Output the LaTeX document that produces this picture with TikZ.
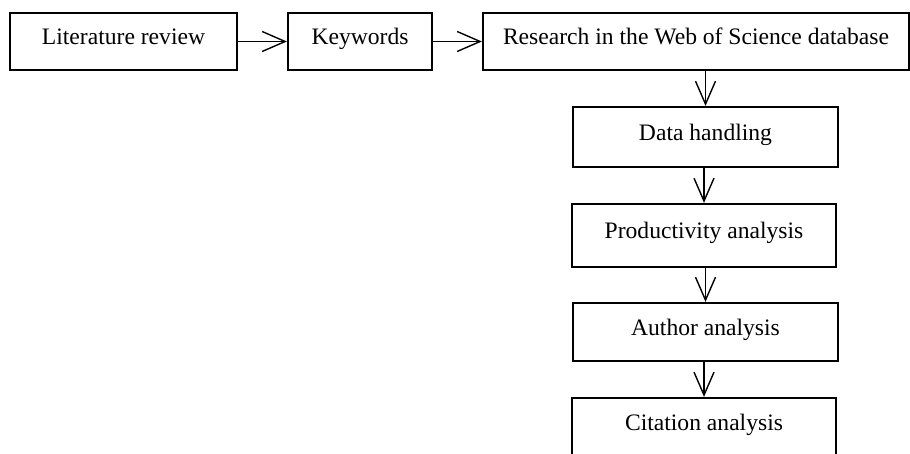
\documentclass[tikz,border=0pt]{standalone}
\usepackage{fontspec}
\setmainfont{Liberation Serif}
\usetikzlibrary{arrows.meta}
\tikzset{
  stage/.style={draw, line width=1.1pt, inner sep=0pt, text height=8pt, text depth=4.5pt,
    font=\fontsize{11.8}{14}\selectfont},
  flow/.style={-{Straight Barb[length=11.5pt,width=10pt]}, line width=0.7pt}
}
\begin{document}
\begin{tikzpicture}[x=0.5pt,y=-0.5pt]
    \useasboundingbox (0,0) rectangle (910,454);
    % top row
    \node[stage, minimum width=113.5pt, minimum height=28.5pt] (lit) at (123.5,41.5) {Literature review};
    \node[stage, minimum width=72pt, minimum height=28.5pt] (key) at (360,41.5) {Keywords};
    \node[stage, minimum width=213pt, minimum height=28.5pt] (wos) at (696,41.5) {Research in the Web of Science database};
    % column
    \node[stage, minimum width=132.5pt, minimum height=30pt] (data) at (705.5,137) {Data handling};
    \node[stage, minimum width=132pt, minimum height=31.5pt] (prod) at (704,235.5) {Productivity analysis};
    \node[stage, minimum width=132.5pt, minimum height=29pt] (auth) at (705.5,332) {Author analysis};
    \node[stage, minimum width=132pt, minimum height=29pt] (cite) at (704,427) {Citation analysis};
    \draw[flow] (lit) -- (key);
    \draw[flow] (key) -- (wos);
    \draw[flow] (wos.south -| data.north) -- (data.north);
    \draw[flow] (data.south -| prod.north) -- (prod.north);
    \draw[flow] (prod.south -| auth.north) -- (auth.north);
    \draw[flow] (auth.south -| cite.north) -- (cite.north);
\end{tikzpicture}
\end{document}
